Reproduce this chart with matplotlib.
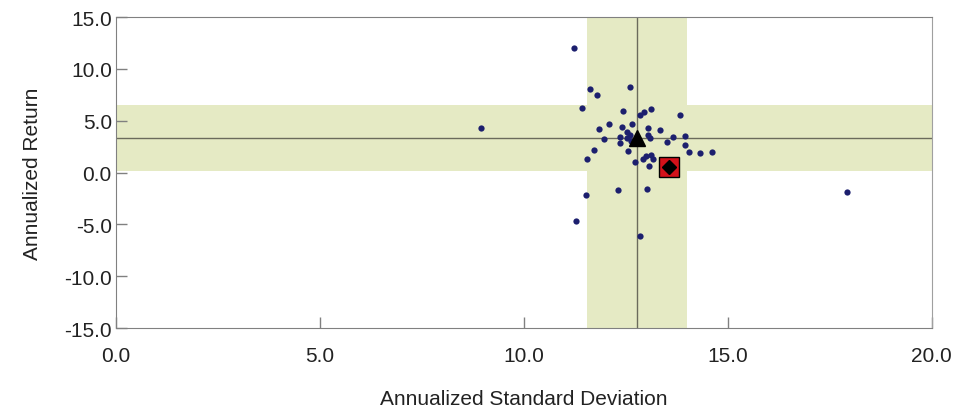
import matplotlib
matplotlib.use('agg')
import matplotlib.pyplot as plt

plt.rcParams['font.family'] = ['Liberation Sans', 'DejaVu Sans']

# peer universe: annualized std dev vs annualized return
std_dev = [11.23, 11.62, 11.80, 12.61, 11.43, 12.43, 13.13, 12.95, 12.84, 13.84,
           12.09, 11.84, 12.40, 12.66, 13.05, 13.34, 12.52, 12.60, 12.52, 11.97,
           12.35, 12.35, 12.62, 13.05, 13.09, 13.66, 13.96, 13.52, 13.96, 11.71,
           12.55, 14.05, 14.32, 14.62, 11.55, 13.00, 13.13, 12.72, 12.93, 13.16,
           13.08, 11.52, 12.31, 13.02, 11.27, 12.84, 8.95, 17.93]
returns = [12.0, 8.03, 7.45, 8.28, 6.19, 5.90, 6.10, 5.85, 5.55, 5.52,
           4.68, 4.15, 4.36, 4.68, 4.32, 4.06, 3.88, 3.65, 3.35, 3.22,
           3.38, 2.88, 3.07, 3.58, 3.33, 3.46, 3.49, 2.95, 2.70, 2.20,
           2.09, 2.01, 1.86, 1.98, 1.30, 1.60, 1.72, 0.99, 1.31, 1.31,
           0.66, -2.16, -1.71, -1.55, -4.67, -6.15, 4.27, -1.84]

median_std, median_ret = 12.77, 3.33
band_std = (11.55, 14.0)
band_ret = (0.12, 6.5)
fund_std, fund_ret = 13.56, 0.50

xticks = [0.0, 5.0, 10.0, 15.0, 20.0]
yticks = [-15.0, -10.0, -5.0, 0.0, 5.0, 10.0, 15.0]

band_col = '#e5eac4'
line_col = '#6b6b5c'

fig = plt.figure(figsize=(9.54, 4.14), dpi=100)
ax = fig.add_axes([0.1216, 0.2053, 0.855, 0.7512])

ax.axvspan(*band_std, color=band_col, lw=0, zorder=0)
ax.axhspan(*band_ret, color=band_col, lw=0, zorder=0)
ax.axvline(median_std, color=line_col, lw=1, zorder=1)
ax.axhline(median_ret, color=line_col, lw=1, zorder=1)

ax.plot(std_dev, returns, 'o', color='#1c1f6e', ms=4.5, mew=0, zorder=3)
ax.plot(median_std, median_ret, '^', color='black', ms=11, zorder=4)
ax.plot(fund_std, fund_ret, 's', color='#d4111a', mec='black', mew=1, ms=14, zorder=5)
ax.plot(fund_std, fund_ret, 'D', color='black', ms=7, zorder=6)

ax.set_xlim(0, 20)
ax.set_ylim(-15, 15)
ax.set_xticks(xticks)
ax.set_yticks(yticks)
ax.set_xticklabels(['{:.1f}'.format(v) for v in xticks])
ax.set_yticklabels(['{:.1f}'.format(v) for v in yticks])
ax.tick_params(direction='in', length=8, width=1, color='#808080',
               labelsize=15, colors='#222222')
ax.tick_params(axis='x', pad=13)
ax.tick_params(axis='y', pad=3)
for s in ['left', 'bottom', 'top']:
    ax.spines[s].set_color('#808080')
ax.spines['right'].set_color('#a0a0a0')

ax.set_xlabel('Annualized Standard Deviation', fontsize=15, color='#222222', labelpad=17)
ax.set_ylabel('Annualized Return', fontsize=15, color='#222222', labelpad=16)

fig.savefig('out.png', dpi=100)
